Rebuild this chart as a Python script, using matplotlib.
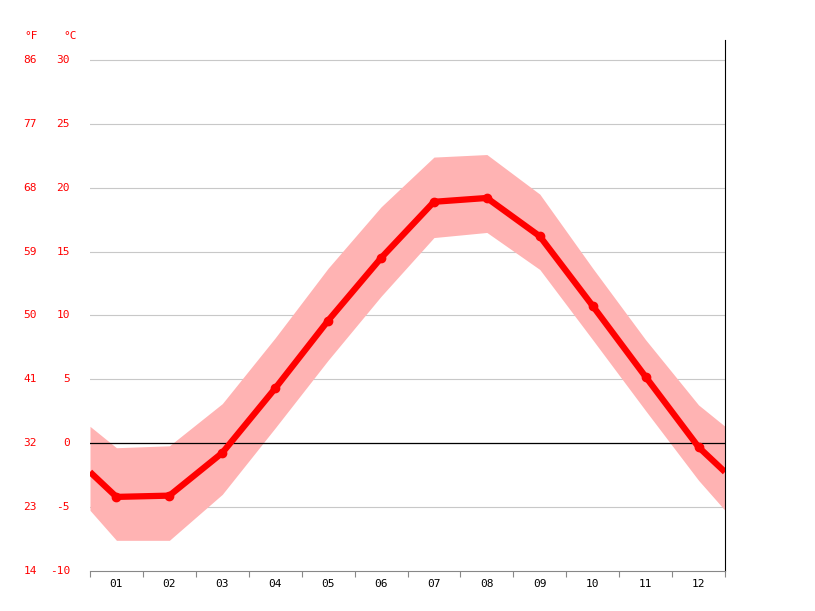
import matplotlib
matplotlib.use("Agg")
import matplotlib.pyplot as plt
import numpy as np

months = ["01","02","03","04","05","06","07","08","09","10","11","12"]
t_mean = [-4.2,-4.1,-0.75,4.3,9.6,14.5,18.9,19.2,16.2,10.75,5.2,-0.3]
t_max = [-0.35,-0.2,3.1,8.25,13.7,18.5,22.4,22.6,19.5,13.7,8.1,3.0]
t_min = [-7.6,-7.6,-4.0,1.2,6.5,11.5,16.1,16.5,13.6,8.1,2.55,-2.9]
c_ticks = [-10,-5,0,5,10,15,20,25,30]
f_ticks = [14,23,32,41,50,59,68,77,86]

def ext(v):
    e = (v[0]+v[-1])/2
    return [e]+list(v)+[e]

x = np.arange(1,13)
xe = np.concatenate([[0.5],x,[12.5]])

fig = plt.figure(figsize=(8.15,6.11),dpi=100)
ax = fig.add_axes([90/815, 1-571/611, 635/815, 531/611])
ax.set_xlim(0.5,12.5)
ax.set_ylim(-10, 30+20/12.78)
ax.fill_between(xe, ext(t_min), ext(t_max), color="#ffb3b3", lw=0, zorder=1)
for c in c_ticks[1:]:
    ax.axhline(c, color="#c8c8c8", lw=0.8, zorder=0)
ax.axhline(0, color="black", lw=0.9, zorder=2)
ax.plot(xe, ext(t_mean), color="#ff0000", lw=4.5, zorder=3, solid_capstyle="butt")
ax.plot(x, t_mean, "o", color="#ff0000", ms=6, zorder=4)
for s in ["top","left"]:
    ax.spines[s].set_visible(False)
ax.spines["bottom"].set_color("#888888")
ax.spines["right"].set_color("black")
ax.set_yticks([])
ax.set_xticks(np.arange(0.5,13,1))
ax.set_xticklabels([])
ax.set_xticks(x, minor=True)
ax.set_xticklabels(months, minor=True, fontsize=8, family="DejaVu Sans Mono")
ax.tick_params(axis="x", which="major", length=4, color="#888888")
ax.tick_params(axis="x", which="minor", length=0, pad=6)
tr = ax.get_yaxis_transform()
for c, f in zip(c_ticks, f_ticks):
    ax.text(-20/635, c, str(c), transform=tr, ha="right", va="center", color="red", fontsize=8, family="DejaVu Sans Mono")
    ax.text(-53/635, c, str(f), transform=tr, ha="right", va="center", color="red", fontsize=8, family="DejaVu Sans Mono")
fig.text(70/815, 1-36/611, "°C", color="red", fontsize=8, ha="center", va="center", family="DejaVu Sans Mono")
fig.text(31/815, 1-36/611, "°F", color="red", fontsize=8, ha="center", va="center", family="DejaVu Sans Mono")
fig.savefig("out.png", dpi=100)
